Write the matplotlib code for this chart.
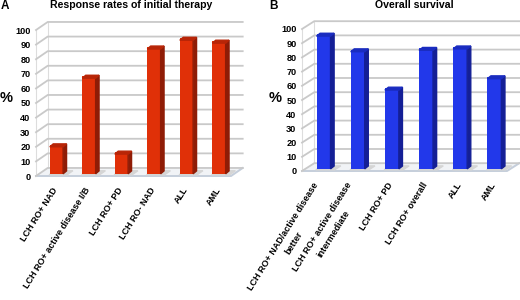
import matplotlib
matplotlib.use("Agg")
import matplotlib.pyplot as plt
from matplotlib.transforms import ScaledTranslation

plt.rcParams["font.family"] = ["Liberation Sans", "DejaVu Sans"]
plt.rcParams["font.weight"] = "bold"

labels_a = ["LCH RO+ NAD", "LCH RO+ active disease I/B", "LCH RO+ PD", "LCH RO- NAD", "ALL", "AML"]
values_a = [20, 67, 15, 87, 93, 91]
labels_b = [
    "LCH RO+ NAD/active disease\nbetter",
    "LCH RO+ active disease\nintermediate",
    "LCH RO+ PD",
    "LCH RO+ overall",
    "ALL",
    "AML",
]
values_b = [95, 84, 57, 85, 86, 65]
y_ticks = list(range(0, 101, 10))

W, H = 520, 300
DX, DY = 0.36, 5.5      # depth of the chart box, in category / % units
BAR_DX, BAR_DY = 0.105, 2.0
GRID = "#c9c9c9"


def panel(box, labels, values, front, side, top, title, title_x, letter, letter_x, pct_x, bar_shift):
    left, right, y100, y0 = box
    ax = fig.add_axes([left / W, 1 - y0 / H, (right - left) / W, (y0 - y100) / H])
    ax.set_xlim(-0.5, 5.5)
    ax.set_ylim(0, 100)
    ax.patch.set_visible(False)
    for s in ax.spines.values():
        s.set_visible(False)

    # floor and walls
    ax.fill([-0.5, 5.5, 5.5 + DX, -0.5 + DX], [0, 0, DY, DY], color="#f1f3f6", clip_on=False, zorder=1)
    ax.plot([-0.5, 5.5, 5.5 + DX], [0, 0, DY], color="#c5cedb", lw=1.4, clip_on=False, zorder=2)
    ax.plot([-0.5, -0.5], [0, 100], color="#dddddd", lw=0.8, clip_on=False, zorder=2)
    ax.plot([-0.5 + DX, -0.5 + DX], [DY, 100 + DY], color="#dddddd", lw=0.8, clip_on=False, zorder=2)
    for t in y_ticks:
        ax.plot([-0.5, -0.5 + DX, 5.5 + DX], [t, t + DY, t + DY], color=GRID, lw=1.3, clip_on=False, zorder=2)

    # bars with fake depth
    xs = [i + bar_shift for i in range(len(values))]
    ax.bar(xs, values, width=0.41, bottom=1.5, color=front, zorder=5, clip_on=False)
    for x, v in zip(xs, values):
        xr = x + 0.205
        xl = x - 0.205
        ax.fill([xl - 0.02, xr + 0.12, xr + 0.3, xl + 0.15], [0.8, 0.8, 3.6, 3.6], color="#d5d5d5", zorder=3, clip_on=False)
        ax.fill([xr, xr + BAR_DX, xr + BAR_DX, xr], [1.5, 1.5 + BAR_DY, v + BAR_DY, v], color=side, zorder=5, clip_on=False)
        ax.fill([xl, xr, xr + BAR_DX, xl + BAR_DX], [v, v, v + BAR_DY, v + BAR_DY], color=top, zorder=5, clip_on=False)

    ax.set_yticks(y_ticks)
    ax.tick_params(axis="y", length=0, pad=4, labelsize=6.6)
    ax.set_xticks(range(len(labels)))
    ax.set_xticklabels(labels, rotation=58, ha="right", va="top", rotation_mode="anchor",
                       fontsize=6.5, multialignment="center", linespacing=1.6)
    ax.tick_params(axis="x", length=0, pad=7)
    # two-line labels sit a bit further left in the original
    for lab in ax.get_xticklabels():
        if "\n" in lab.get_text():
            lab.set_transform(lab.get_transform() + ScaledTranslation(-0.07, 0, fig.dpi_scale_trans))

    fig.text(title_x / W, 1 - 5.5 / H, title, fontsize=7.6, ha="center", va="center")
    fig.text(letter_x / W, 1 - 6 / H, letter, fontsize=8.5, ha="left", va="center")
    fig.text(pct_x / W, 1 - 98 / H, "%", fontsize=10.5, ha="center", va="center")


fig = plt.figure(figsize=(W / 100, H / 100), dpi=100)
panel((36, 231, 30, 176), labels_a, values_a, "#e03008", "#8f1c06", "#b82507",
      "Response rates of initial therapy", 131, "A", 1, 6, 0.13)
panel((302, 507, 29, 171), labels_b, values_b, "#2238ea", "#141f96", "#1a2cc0",
      "Overall survival", 414, "B", 269, 275, 0.13)
fig.savefig("out.png", dpi=100)
